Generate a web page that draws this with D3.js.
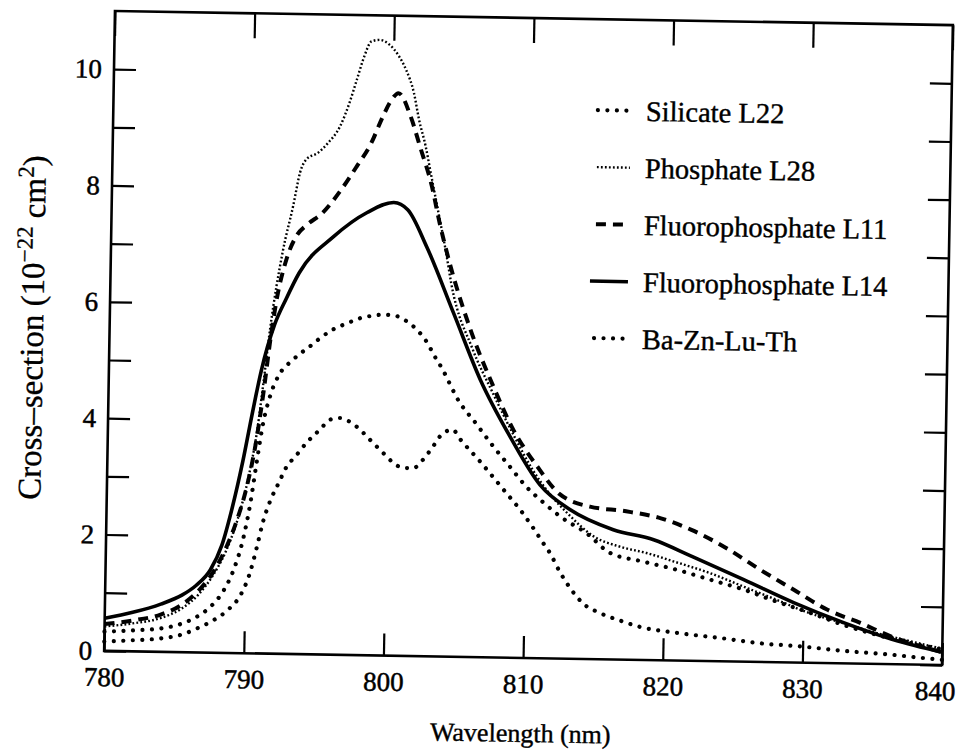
<!DOCTYPE html>
<html>
<head>
<meta charset="utf-8">
<script src="https://cdn.jsdelivr.net/npm/d3@7/dist/d3.min.js"></script>
<style>
  body { margin: 0; background: #fff; }
  text { font-family: "Liberation Serif", "Times New Roman", serif; fill: #000; }
</style>
</head>
<body>
<div class="chart"></div>
<script>
// [wavelength nm, cross-section 1e-22 cm^2]
const silicateL22 = [
  [780,0.33],[782,0.36],[784,0.40],[785.4,0.48],[786.5,0.60],[787.6,0.80],[788.5,1.08],
  [789.2,1.45],[789.8,1.95],[790.3,2.60],[790.7,3.30],[791.1,3.95],[791.6,4.45],[792.2,4.80],
  [792.9,5.00],[793.6,5.15],[794.4,5.30],[795.1,5.44],[796,5.59],[797,5.70],[797.9,5.79],
  [798.9,5.84],[799.6,5.86],[800.5,5.84],[801.2,5.76],[802,5.61],[802.7,5.41],[803.3,5.16],
  [803.9,4.93],[804.4,4.70],[804.9,4.47],[806.4,4.00],[807.6,3.63],[808.8,3.29],[810,2.95],
  [811.3,2.67],[812.5,2.44],[814.4,2.16],[816.1,1.83],[818.5,1.69],[820.9,1.56],[823.3,1.40],
  [825.7,1.24],[828.1,1.04],[830.5,0.86],[832.9,0.66],[835.3,0.50],[837.7,0.37],[840,0.27]
];
const phosphateL28 = [
  [780,0.42],[782,0.48],[784,0.58],[785.5,0.75],[786.7,1.00],[787.7,1.33],[788.6,1.75],
  [789.4,2.30],[790.1,3.00],[790.7,3.85],[791.1,4.70],[791.5,5.60],[792.3,6.91],[793,7.71],
  [793.45,8.28],[793.9,8.51],[794.7,8.62],[795.4,8.79],[796.25,9.08],[796.9,9.49],[797.4,9.89],
  [797.9,10.29],[798.4,10.55],[799,10.58],[799.7,10.50],[800.4,10.30],[800.9,10.08],[801.5,9.68],
  [801.9,9.22],[802.4,8.77],[802.8,8.31],[803.4,7.63],[804,6.94],[804.4,6.42],[806,5.30],
  [807.5,4.55],[809,3.85],[810.5,3.22],[811.8,2.80],[813,2.50],[814.9,2.11],[816.8,1.94],
  [818.7,1.84],[820.7,1.70],[823.3,1.51],[825.7,1.29],[828.1,1.07],[830.5,0.85],[832.9,0.69],
  [835.3,0.53],[837.7,0.40],[840,0.28]
];
const fluoroL11 = [
  [780,0.46],[782,0.53],[784,0.64],[785.4,0.80],[786.6,1.04],[787.7,1.38],[788.5,1.75],
  [789.3,2.25],[790,2.85],[790.6,3.60],[791.1,4.50],[791.5,5.35],[791.9,6.05],[792.6,6.80],
  [793.3,7.20],[794,7.38],[795.1,7.59],[796.4,7.99],[797.5,8.40],[798.5,8.80],[799.3,9.26],
  [799.9,9.55],[800.4,9.67],[801.3,9.27],[802,8.76],[802.9,8.08],[803.5,7.45],[804.2,6.82],
  [805.8,5.65],[807.5,4.68],[809,3.93],[810.8,3.29],[812.4,2.83],[814.6,2.62],[817.2,2.55],
  [819.7,2.44],[821.9,2.25],[824.4,1.95],[826.9,1.58],[829.3,1.25],[831.7,0.92],[834.1,0.70],
  [836.5,0.46],[838.9,0.29],[840,0.22]
];
const fluoroL14 = [
  [780,0.56],[782,0.67],[784,0.82],[785.5,0.98],[786.5,1.15],[787.5,1.42],[788.3,1.85],
  [789,2.50],[789.7,3.30],[790.3,4.10],[790.9,4.85],[791.8,5.65],[792.6,6.10],[793.5,6.55],
  [795.9,7.18],[798.3,7.61],[800.2,7.79],[801.2,7.67],[802.6,7.04],[804.6,5.91],[806.6,4.77],
  [808.8,3.80],[811,2.98],[813.2,2.56],[816.3,2.23],[819.2,2.07],[822,1.79],[825.7,1.41],
  [829.3,1.03],[832.9,0.70],[836.5,0.42],[840,0.22]
];
const baZnLuTh = [
  [780,0.16],[782,0.19],[784,0.23],[785.5,0.30],[786.6,0.41],[787.8,0.56],[788.9,0.76],
  [789.7,1.00],[790.3,1.35],[790.8,1.82],[791.2,2.25],[791.7,2.62],[792.3,2.94],[792.8,3.20],
  [793.5,3.41],[794.25,3.64],[795.2,3.87],[795.9,4.04],[796.6,4.07],[797.3,4.01],[798.3,3.82],
  [799,3.65],[799.75,3.48],[800.5,3.31],[801.2,3.23],[801.9,3.23],[802.6,3.38],[803.3,3.61],
  [804,3.84],[804.7,3.90],[805.2,3.75],[806.7,3.36],[807.6,3.11],[808.6,2.83],[809.6,2.55],
  [810.5,2.26],[811.3,1.98],[811.8,1.81],[812.5,1.50],[813.3,1.21],[814.2,0.96],[815.5,0.79],
  [816.9,0.67],[818.3,0.57],[821.2,0.47],[824.1,0.40],[827,0.32],[829.8,0.28],[833.2,0.21],
  [836,0.17],[838.9,0.11],[840,0.09]
];

const seriesNames = ["Silicate L22", "Phosphate L28", "Fluorophosphate L11", "Fluorophosphate L14", "Ba-Zn-Lu-Th"];
const xTicks = [780, 790, 800, 810, 820, 830, 840];
const yTicks = [0, 1, 2, 3, 4, 5, 6, 7, 8, 9, 10];

const width = 957, height = 751;
const margin = { top: 18, right: 9.5, bottom: 93, left: 109.5 };
const innerW = width - margin.left - margin.right;
const innerH = height - margin.top - margin.bottom;

// line look per series, same order as seriesNames
const styles = [
  { w: 4.2, dash: "0.01 9.5", cap: "round" },
  { w: 2.4, dash: "1.8 2.2", cap: "butt" },
  { w: 4, dash: "10 7", cap: "butt" },
  { w: 3.6, dash: null, cap: "butt" },
  { w: 4.2, dash: "0.01 9.5", cap: "round" }
];
const seriesData = [silicateL22, phosphateL28, fluoroL11, fluoroL14, baZnLuTh];

const svg = d3.select(".chart").append("svg")
  .attr("width", width)
  .attr("height", height);

// the scan is tilted by about one degree
const root = svg.append("g")
  .attr("transform", "rotate(0.97 528.5 338)");

const chart = root.append("g")
  .attr("transform", "translate(" + margin.left + "," + margin.top + ")");

const x = d3.scaleLinear().domain([780, 840]).range([0, innerW]);
const y = d3.scaleLinear().domain([0, 11]).range([innerH, 0]);

const styleAxis = g => {
  g.select(".domain").remove();
  g.selectAll(".tick line").attr("stroke", "#000").attr("stroke-width", 2.2);
  g.selectAll(".tick text").attr("font-size", 27).attr("fill", "#000")
    .attr("stroke", "#000").attr("stroke-width", 0.5)
    .style("font-family", '"Liberation Serif", serif');
};

chart.append("g")
  .attr("transform", "translate(0," + innerH + ")")
  .call(d3.axisBottom(x).tickValues(xTicks).tickSizeInner(-22).tickSizeOuter(0).tickPadding(16))
  .call(styleAxis)
  .selectAll(".tick text")
  .attr("dx", d => d === 840 ? -7 : 0);

chart.append("g")
  .call(d3.axisTop(x).tickValues(xTicks).tickSizeInner(-25).tickSizeOuter(0).tickFormat(""))
  .call(styleAxis);

chart.append("g")
  .call(d3.axisLeft(y).tickValues(yTicks).tickSizeInner(-22).tickSizeOuter(0).tickPadding(12)
    .tickFormat(d => d % 2 === 0 ? d : ""))
  .call(styleAxis);

chart.append("g")
  .attr("transform", "translate(" + innerW + ",0)")
  .call(d3.axisRight(y).tickValues(yTicks).tickSizeInner(-22).tickSizeOuter(0).tickFormat(""))
  .call(styleAxis);

chart.append("rect")
  .attr("width", innerW)
  .attr("height", innerH)
  .attr("fill", "none")
  .attr("stroke", "#000")
  .attr("stroke-width", 2.6);

const line = d3.line()
  .x(d => x(d[0]))
  .y(d => y(d[1]))
  .curve(d3.curveMonotoneX);

chart.selectAll("path.curve")
  .data(seriesData)
  .enter()
  .append("path")
  .attr("class", "curve")
  .attr("d", line)
  .attr("fill", "none")
  .attr("stroke", "#000")
  .attr("stroke-width", (d, i) => styles[i].w)
  .attr("stroke-dasharray", (d, i) => styles[i].dash)
  .attr("stroke-linecap", (d, i) => styles[i].cap)
  .attr("stroke-linejoin", "round");

/* Legend */
const legend = root.append("g").attr("transform", "translate(589,109)");
const rows = legend.selectAll("g")
  .data(seriesNames)
  .enter()
  .append("g")
  .attr("transform", (d, i) => "translate(0," + i * 57 + ")");

rows.append("line")
  .attr("x1", (d, i) => i === 3 ? 0 : 5)
  .attr("x2", 38)
  .attr("stroke", "#000")
  .attr("stroke-width", (d, i) => styles[i].w)
  .attr("stroke-dasharray", (d, i) => styles[i].dash)
  .attr("stroke-linecap", (d, i) => styles[i].cap);

rows.append("text")
  .attr("x", 53)
  .attr("dy", "0.35em")
  .attr("font-size", 28.5)
  .attr("stroke", "#000")
  .attr("stroke-width", 0.4)
  .text(d => d);

/* Axis titles */
root.append("text")
  .attr("x", 527)
  .attr("y", 742)
  .attr("text-anchor", "middle")
  .attr("font-size", 26)
  .attr("stroke", "#000")
  .attr("stroke-width", 0.4)
  .text("Wavelength (nm)");

const yTitle = root.append("text")
  .attr("transform", "translate(43,336) rotate(-90)")
  .attr("text-anchor", "middle")
  .attr("font-size", 33)
  .attr("stroke", "#000")
  .attr("stroke-width", 0.3);
yTitle.append("tspan").text("Cross–section (10");
yTitle.append("tspan").attr("dy", -12).attr("font-size", 23).text("−22");
yTitle.append("tspan").attr("dy", 12).text(" cm");
yTitle.append("tspan").attr("dy", -12).attr("font-size", 23).text("2");
yTitle.append("tspan").attr("dy", 12).text(")");
</script>
</body>
</html>
